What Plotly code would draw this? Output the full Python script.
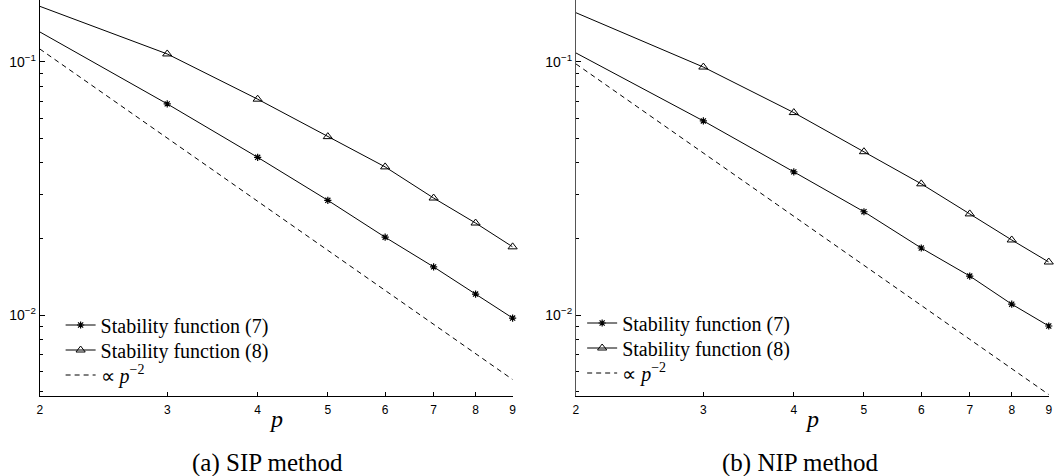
import plotly.graph_objects as go

# Polynomial degree p
p_values = [2, 3, 4, 5, 6, 7, 8, 9]
p_ticklabels = ["2", "3", "4", "5", "6", "7", "8", "9"]

# (a) SIP method
sip_stab7 = [0.1315, 0.0683, 0.0420, 0.0284, 0.0203, 0.0155, 0.0121, 0.00973]
sip_stab8 = [0.166, 0.1076, 0.0713, 0.0507, 0.0385, 0.0290, 0.0231, 0.0186]
sip_ref = [0.1126, 0.0500, 0.0282, 0.0180, 0.0125, 0.00919, 0.00704, 0.00556]

# (b) NIP method
nip_stab7 = [0.1086, 0.0585, 0.0368, 0.0256, 0.0184, 0.01426, 0.01104, 0.00905]
nip_stab8 = [0.1566, 0.0955, 0.0631, 0.0442, 0.0330, 0.0251, 0.0198, 0.0162]
nip_ref = [0.0983, 0.0437, 0.0246, 0.0157, 0.0109, 0.00802, 0.00614, 0.00485]

series_names = ["Stability function (7)", "Stability function (8)", "∝ <i>p</i><sup>−2</sup>"]
y_major = [0.01, 0.1]
y_major_text = ["10<sup>−2</sup>", "10<sup>−1</sup>"]
y_minor = [0.005, 0.006, 0.007, 0.008, 0.009,
           0.02, 0.03, 0.04, 0.05, 0.06, 0.07, 0.08, 0.09]
captions = ["(a) SIP method", "(b) NIP method"]

W, H = 1060, 476
SERIF = "Liberation Serif"
SANS = "Liberation Sans"

fig = go.Figure()

# each legend row gets its own legend box so the rows can sit close together
panels = [
    (sip_stab7, sip_stab8, sip_ref, "x", "y", ["legend", "legend2", "legend3"]),
    (nip_stab7, nip_stab8, nip_ref, "x2", "y2", ["legend4", "legend5", "legend6"]),
]
for s7, s8, ref, xa, ya, lgs in panels:
    fig.add_trace(go.Scatter(
        x=p_values, y=s7, xaxis=xa, yaxis=ya, name=series_names[0], legend=lgs[0],
        mode="lines+markers", line=dict(color="black", width=1),
        marker=dict(symbol="asterisk-open", size=6, color="black", line=dict(width=1.2, color="black")),
        cliponaxis=False))
    fig.add_trace(go.Scatter(
        x=p_values, y=s8, xaxis=xa, yaxis=ya, name=series_names[1], legend=lgs[1],
        mode="lines+markers", line=dict(color="black", width=1),
        marker=dict(symbol="triangle-up-open", size=8, color="black", line=dict(width=1, color="black")),
        cliponaxis=False))
    fig.add_trace(go.Scatter(
        x=p_values, y=ref, xaxis=xa, yaxis=ya, name=series_names[2], legend=lgs[2],
        mode="lines", line=dict(color="black", width=1, dash="5px,4px"),
        cliponaxis=False))

xdoms = [[37 / W, 513 / W], [576.7 / W, 1052.7 / W]]
ydom = [80 / H, 1.0]

def xaxis_cfg(dom, anchor):
    return dict(type="log", domain=dom, anchor=anchor, range=[0.30103, 0.954243],
                tickmode="array", tickvals=p_values, ticktext=p_ticklabels,
                ticks="inside", ticklen=4, tickwidth=1, tickcolor="black",
                showline=True, linecolor="black", linewidth=1, mirror=False,
                showgrid=False, zeroline=False, ticklabelstandoff=3,
                tickfont=dict(family=SANS, size=12, color="black"))

def yaxis_cfg(anchor, linecolor):
    return dict(type="log", domain=ydom, anchor=anchor, range=[-2.32, -0.755],
                tickmode="array", tickvals=y_major, ticktext=y_major_text,
                ticks="inside", ticklen=5, tickwidth=1, tickcolor="black",
                minor=dict(tickmode="array", tickvals=y_minor, ticks="inside",
                           ticklen=3, tickwidth=1, tickcolor="black", showgrid=False),
                showline=True, linecolor=linecolor, linewidth=1, mirror=False,
                showgrid=False, zeroline=False,
                tickfont=dict(family=SANS, size=14, color="black"))

def legend_row(x_px, y_px):
    return dict(x=x_px / W, y=1 - y_px / H, xanchor="left", yanchor="middle",
                bgcolor="rgba(0,0,0,0)", borderwidth=0, itemwidth=30,
                font=dict(family=SERIF, size=20, color="black"))

fig.update_layout(
    width=W, height=H,
    margin=dict(l=0, r=0, t=0, b=0),
    font=dict(family=SERIF, color="black"),
    paper_bgcolor="white", plot_bgcolor="white",
    xaxis=xaxis_cfg(xdoms[0], "y"),
    yaxis=yaxis_cfg("x", "black"),
    xaxis2=xaxis_cfg(xdoms[1], "y2"),
    yaxis2=yaxis_cfg("x2", "#555555"),
    legend=legend_row(58, 325),
    legend2=legend_row(58, 350),
    legend3=legend_row(58, 375),
    legend4=legend_row(583, 323),
    legend5=legend_row(583, 348),
    legend6=legend_row(583, 373),
    showlegend=True,
)

# axis titles and sub-captions
for cx in [(37 + 513) / 2, (576.7 + 1052.7) / 2]:
    fig.add_annotation(text="<i>p</i>", x=cx / W, y=1 - 419 / H, xref="paper", yref="paper",
                       xanchor="center", yanchor="middle", showarrow=False,
                       font=dict(family=SERIF, size=24, color="black"))
for cx, txt in zip([266, 802], captions):
    fig.add_annotation(text=txt, x=cx / W, y=1 - 463 / H, xref="paper", yref="paper",
                       xanchor="center", yanchor="middle", showarrow=False,
                       font=dict(family=SERIF, size=25, color="black"))

fig.write_html("out.html")
